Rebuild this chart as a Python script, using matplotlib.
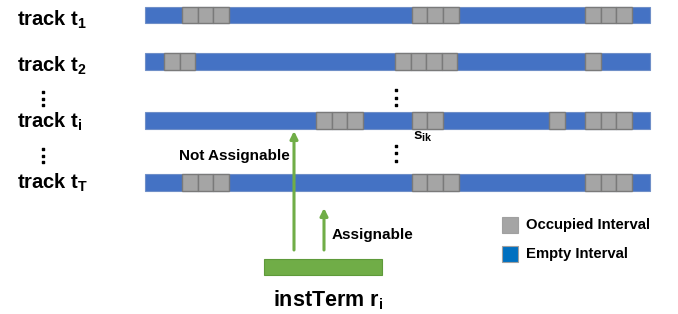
import matplotlib.pyplot as plt
from matplotlib.patches import Rectangle, FancyArrowPatch

plt.rcParams['font.family'] = 'Liberation Sans'
plt.rcParams['font.weight'] = 'bold'
plt.rcParams['mathtext.fontset'] = 'custom'
plt.rcParams['mathtext.rm'] = 'Liberation Sans:bold'
plt.rcParams['mathtext.it'] = 'Liberation Sans:bold'
plt.rcParams['mathtext.bf'] = 'Liberation Sans:bold'

# tracks and their occupied intervals: (offset from track start, number of cells)
track_names = ['1', '2', 'i', 'T']
occupied = [
    [(37, 3), (266.7, 3), (440, 3)],
    [(19, 2), (250, 4), (440, 1)],
    [(171, 3), (266.7, 2), (404.3, 1), (440, 3)],
    [(37, 3), (266.7, 3), (440, 3)],
]
legend_labels = ['Occupied Interval', 'Empty Interval']

BLUE = '#4472C4'
GRAY = '#A5A5A5'
GREEN = '#70AD47'

x0, track_len, bar_h, cell_w = 145, 505, 16.5, 15.6
row_y = [15, 61.5, 120.5, 182.5]
label_base = [26, 72, 128, 189]

fig = plt.figure(figsize=(6.78, 3.14), dpi=100)
ax = fig.add_axes([0, 0, 1, 1])
ax.set_xlim(0, 678)
ax.set_ylim(314, 0)
ax.axis('off')

for name, runs, y, yb in zip(track_names, occupied, row_y, label_base):
    ax.add_patch(Rectangle((x0, y - bar_h / 2), track_len, bar_h,
                           facecolor=BLUE, edgecolor='#6F8FC8', lw=0.8, zorder=2))
    for start, n in runs:
        for k in range(n):
            ax.add_patch(Rectangle((x0 + start + k * cell_w, y - bar_h / 2), cell_w, bar_h,
                                   facecolor=GRAY, edgecolor='#7A7A7A', lw=1.0, zorder=3))
    ax.text(17, yb, r'track t$_{\mathrm{%s}}$' % name, fontsize=14.5,
            ha='left', va='baseline', zorder=5)

# vertical ellipsis dots
for cx, ys in [(43, [92, 98.5, 105]), (43, [149, 155.5, 162]),
               (396, [90, 98, 105]), (396, [146, 153, 161])]:
    ax.scatter([cx] * 3, ys, s=3.5, marker='s', color='black', zorder=5)

ax.text(413, 140, r's$_{\mathrm{ik}}$', fontsize=11, ha='left', va='baseline')

# instTerm bar and arrows
ax.add_patch(Rectangle((264, 259), 118, 16, facecolor=GREEN, edgecolor='#5E9A3A',
                       lw=0.8, zorder=2))
ax.text(328, 306, r'instTerm r$_{\mathrm{i}}$', fontsize=15.5, ha='center', va='baseline')

for xa, y_top in [(294, 131), (324, 208)]:
    ax.add_patch(FancyArrowPatch((xa, 250), (xa, y_top), arrowstyle='-|>',
                                 mutation_scale=11, color=GREEN, lw=2.2, zorder=4,
                                 shrinkA=0, shrinkB=0))

ax.text(290, 156, 'Not Assignable', fontsize=11, ha='right', va='center')
ax.text(332, 235, 'Assignable', fontsize=11, ha='left', va='center')

# legend
for lab, col, y in zip(legend_labels, [GRAY, '#0070C0'], [225, 254]):
    ax.add_patch(Rectangle((502, y - 8), 16, 16, facecolor=col, edgecolor='#A0A0A0', lw=0.8))
    ax.text(526, y, lab, fontsize=10.7, ha='left', va='center')

fig.savefig('out.png', dpi=100, facecolor='white')
